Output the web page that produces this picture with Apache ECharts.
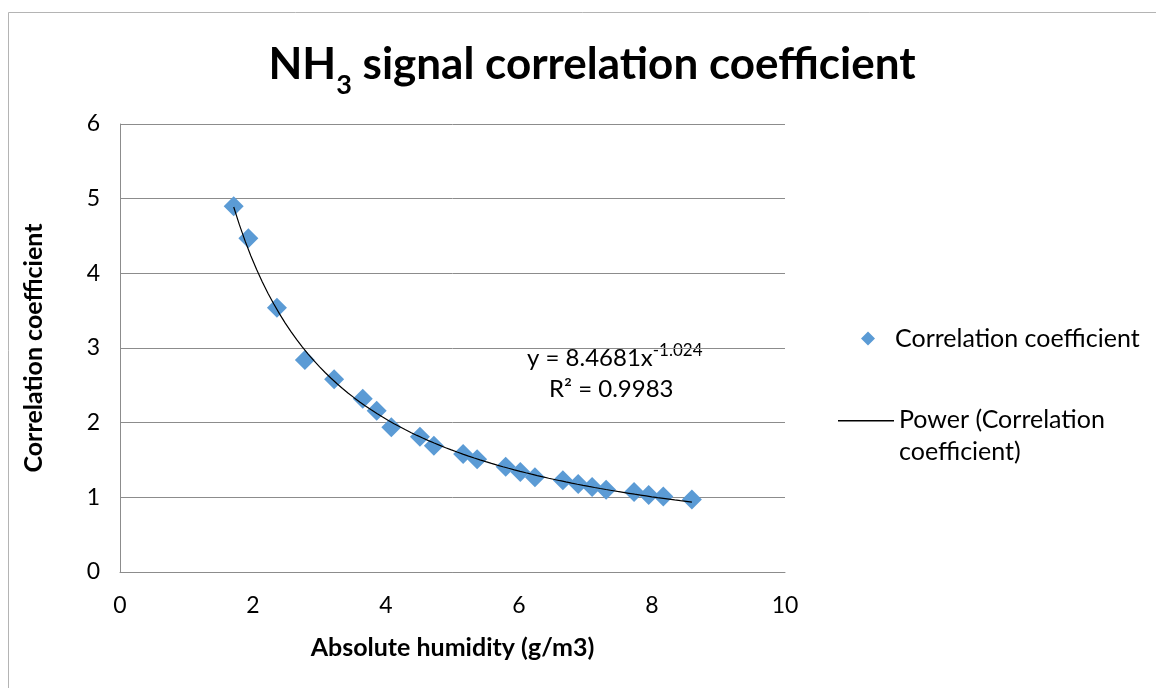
<!DOCTYPE html>
<html>
<head>
<meta charset="utf-8">
<script src="https://cdn.jsdelivr.net/npm/echarts@6/dist/echarts.min.js"></script>
<style>
  html, body { margin: 0; padding: 0; background: #fff; }
  #chart { width: 1156px; height: 688px; }
</style>
</head>
<body>
<div id="chart"></div>
<script>
// measured points
var humidity = [1.71, 1.93, 2.36, 2.78, 3.22, 3.65, 3.86, 4.08, 4.51, 4.72, 5.16, 5.37,
  5.80, 6.02, 6.24, 6.66, 6.89, 7.10, 7.31, 7.73, 7.95, 8.17, 8.60];
var coefficient = [4.90, 4.47, 3.54, 2.84, 2.58, 2.32, 2.16, 1.94, 1.81, 1.69, 1.58, 1.51,
  1.41, 1.34, 1.27, 1.23, 1.18, 1.14, 1.10, 1.07, 1.03, 1.01, 0.97];

// power trendline as printed on the chart
var trendA = 8.4681;
var trendB = -1.024;

var pointName = "Correlation coefficient";
var trendName = "Power (Correlation\ncoefficient)";
var font = "Lato, 'Open Sans', sans-serif";

var points = humidity.map(function (x, i) { return [x, coefficient[i]]; });

var trend = [];
var x0 = humidity[0], x1 = humidity[humidity.length - 1];
for (var i = 0; i <= 80; i++) {
  var x = x0 + (x1 - x0) * i / 80;
  trend.push([x, trendA * Math.pow(x, trendB)]);
}

var chart = echarts.init(document.getElementById("chart"));
chart.setOption({
  animation: false,
  backgroundColor: "#fff",
  textStyle: { fontFamily: font },
  title: {
    text: "{n|NH}{sub|3}{n| signal correlation coefficient}",
    left: 587,
    textAlign: "center",
    top: 38,
    textStyle: {
      rich: {
        n: { fontFamily: font, fontSize: 44, fontWeight: "bold", color: "#000", verticalAlign: "top", lineHeight: 50 },
        sub: { fontFamily: font, fontSize: 27, fontWeight: "bold", color: "#000", verticalAlign: "top", lineHeight: 30, padding: [29, 0, 0, 0] }
      }
    }
  },
  grid: { left: 120, right: 371, top: 124, bottom: 116 },
  xAxis: {
    type: "value",
    min: 0, max: 10, interval: 2,
    name: "Absolute humidity (g/m3)",
    nameLocation: "middle",
    nameGap: 63,
    nameTextStyle: { fontSize: 25, fontWeight: "bold", color: "#000" },
    axisLine: { lineStyle: { color: "#8c8c8c", width: 1 } },
    axisTick: { show: false },
    axisLabel: { fontSize: 23, color: "#000", margin: 22 },
    splitLine: { show: false }
  },
  yAxis: {
    type: "value",
    min: 0, max: 6, interval: 1,
    name: "Correlation coefficient",
    nameLocation: "middle",
    nameGap: 74,
    nameTextStyle: { fontSize: 25, fontWeight: "bold", color: "#000" },
    axisLine: { show: true, lineStyle: { color: "#8c8c8c", width: 1 } },
    axisTick: { show: false },
    axisLabel: { fontSize: 23, color: "#000", margin: 20 },
    splitLine: { lineStyle: { color: "#8c8c8c", width: 1 } }
  },
  legend: [
    {
      data: [pointName],
      left: 841, top: 321,
      icon: "path://M22,0 L29,7 L22,14 L15,7 Z M0,7 L0.001,7 Z M44,7 L43.999,7 Z",
      itemWidth: 44, itemHeight: 14,
      textStyle: { fontSize: 25, color: "#000", fontFamily: font }
    },
    {
      data: [trendName],
      left: 833, top: 399,
      icon: "path://M0,0 L56,0 L56,1.4 L0,1.4 Z M0,32 L0.001,32 Z",
      itemWidth: 56, itemHeight: 32,
      textStyle: { fontSize: 25, color: "#000", lineHeight: 32, fontFamily: font }
    }
  ],
  graphic: [
    {
      type: "rect",
      shape: { x: 8.5, y: 12.5, width: 1300, height: 800 },
      style: { fill: "none", stroke: "#b4b4b4", lineWidth: 1 },
      silent: true
    },
    {
      type: "text",
      left: 527, top: 342,
      style: {
        text: "{m|y = 8.4681x}{s|-1.024}",
        rich: {
          m: { fontFamily: font, fontSize: 24, fill: "#000", verticalAlign: "top", lineHeight: 30, padding: [4, 0, 0, 0] },
          s: { fontFamily: font, fontSize: 17, fill: "#000", verticalAlign: "top", lineHeight: 19 }
        }
      }
    },
    {
      type: "text",
      left: 549, top: 377,
      style: {
        text: "R² = 0.9983",
        font: "24px " + font,
        fill: "#000"
      }
    }
  ],
  series: [
    {
      name: pointName,
      type: "scatter",
      data: points,
      symbol: "diamond",
      symbolSize: 20,
      itemStyle: { color: "#5b9bd5", opacity: 1 },
      z: 2
    },
    {
      name: trendName,
      type: "line",
      data: trend,
      showSymbol: false,
      lineStyle: { color: "#000", width: 1.2 },
      itemStyle: { color: "#000" },
      z: 3
    }
  ]
});
</script>
</body>
</html>
